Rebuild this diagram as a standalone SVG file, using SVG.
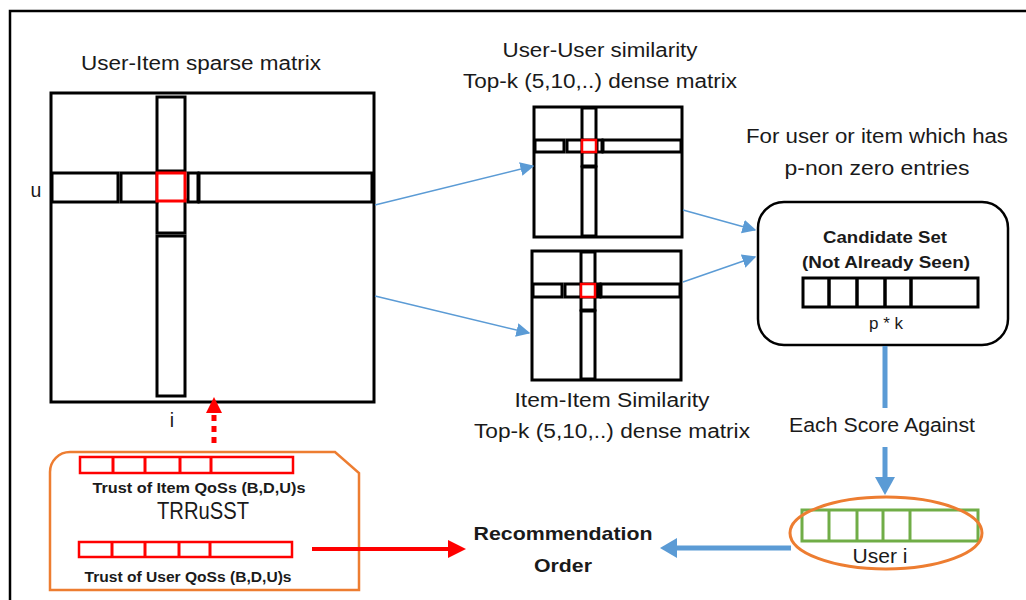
<svg xmlns="http://www.w3.org/2000/svg" width="1026" height="600" viewBox="0 0 1026 600">
<style>
.t{font-family:"Liberation Sans",Arial,sans-serif;fill:#1a1a1a;}
.b{font-weight:bold;}
.k{fill:#fff;stroke:#000;stroke-width:3;}
.r{fill:#fff;stroke:#ff0000;stroke-width:2.5;}
.rl{stroke:#ff0000;stroke-width:3;}
.kl{stroke:#000;stroke-width:3.5;}
.gl{stroke:#70ad47;stroke-width:3;}
.blue{stroke:#5b9bd5;fill:none;}
</style>
<defs>
<marker id="ab" viewBox="0 0 10 10" refX="9" refY="5" markerWidth="14" markerHeight="14" markerUnits="userSpaceOnUse" orient="auto">
<path d="M0,0 L10,5 L0,10 Z" fill="#5b9bd5"/>
</marker>
</defs>
<rect width="1026" height="600" fill="#fff"/>
<rect x="10" y="11" width="1030" height="600" fill="none" stroke="#000" stroke-width="2.5"/>

<g id="sparse-matrix">
<text class="t" x="201" y="70" font-size="19.5" text-anchor="middle" textLength="240" lengthAdjust="spacingAndGlyphs">User-Item sparse matrix</text>
<rect class="k" x="51" y="93" width="323" height="309"/>
<rect class="k" x="157" y="97" width="28" height="74"/>
<rect class="k" x="157" y="200" width="28" height="33"/>
<rect class="k" x="157" y="236" width="28" height="160"/>
<rect class="k" x="52" y="173" width="66" height="29"/>
<rect class="k" x="121" y="173" width="36" height="29"/>
<rect class="k" x="188" y="173" width="10" height="29"/>
<rect class="k" x="199" y="173" width="173" height="29"/>
<rect x="157" y="173" width="28" height="28" fill="#fff" stroke="#ff0000" stroke-width="3"/>
<text class="t" x="36" y="197" font-size="19.5" text-anchor="middle">u</text>
<text class="t" x="172" y="427" font-size="19.5" text-anchor="middle">i</text>
</g>

<g id="user-user-matrix">
<text class="t" x="600" y="57" font-size="19.5" text-anchor="middle" textLength="195" lengthAdjust="spacingAndGlyphs">User-User similarity</text>
<text class="t" x="600" y="88" font-size="19.5" text-anchor="middle" textLength="274" lengthAdjust="spacingAndGlyphs">Top-k (5,10,..) dense matrix</text>
<rect class="k" x="534" y="107" width="148" height="130"/>
<rect class="k" x="582" y="108" width="14" height="32"/>
<rect class="k" x="582" y="152" width="14" height="14"/>
<rect class="k" x="582" y="167" width="14" height="69"/>
<rect class="k" x="535" y="140" width="29" height="12"/>
<rect class="k" x="567" y="140" width="15" height="12"/>
<rect class="k" x="597" y="140" width="5" height="12"/>
<rect class="k" x="603" y="140" width="78" height="12"/>
<rect x="582" y="140" width="14" height="12" fill="#fff" stroke="#ff0000" stroke-width="2.5"/>
</g>

<g id="item-item-matrix">
<rect class="k" x="532" y="251" width="149" height="129"/>
<rect class="k" x="581" y="252" width="14" height="32"/>
<rect class="k" x="581" y="297" width="14" height="13"/>
<rect class="k" x="581" y="311" width="14" height="68"/>
<rect class="k" x="533" y="284" width="29" height="13"/>
<rect class="k" x="565" y="284" width="16" height="13"/>
<rect class="k" x="597" y="284" width="3" height="13"/>
<rect class="k" x="601" y="284" width="79" height="13"/>
<rect x="581" y="284" width="14" height="13" fill="#fff" stroke="#ff0000" stroke-width="2.5"/>
<text class="t" x="612" y="407" font-size="19.5" text-anchor="middle" textLength="195" lengthAdjust="spacingAndGlyphs">Item-Item Similarity</text>
<text class="t" x="612" y="438" font-size="19.5" text-anchor="middle" textLength="276" lengthAdjust="spacingAndGlyphs">Top-k (5,10,..) dense matrix</text>
</g>

<g id="candidate-set">
<text class="t" x="877" y="143" font-size="19.5" text-anchor="middle" textLength="262" lengthAdjust="spacingAndGlyphs">For user or item which has</text>
<text class="t" x="877" y="175" font-size="19.5" text-anchor="middle" textLength="185" lengthAdjust="spacingAndGlyphs">p-non zero entries</text>
<rect x="758" y="202" width="250" height="143" rx="26" fill="#fff" stroke="#000" stroke-width="2.5"/>
<text class="t b" x="885" y="243" font-size="17" text-anchor="middle" textLength="124" lengthAdjust="spacingAndGlyphs">Candidate Set</text>
<text class="t b" x="886" y="268" font-size="17" text-anchor="middle" textLength="168" lengthAdjust="spacingAndGlyphs">(Not Already Seen)</text>
<rect class="k" x="803" y="278" width="175" height="29"/>
<line class="kl" x1="829" y1="278" x2="829" y2="307"/>
<line class="kl" x1="857" y1="278" x2="857" y2="307"/>
<line class="kl" x1="885" y1="278" x2="885" y2="307"/>
<line class="kl" x1="911" y1="278" x2="911" y2="307"/>
<text class="t" x="886" y="329" font-size="17" text-anchor="middle">p * k</text>
</g>

<g id="user-i">
<text class="t" x="882" y="432" font-size="19.5" text-anchor="middle" textLength="186" lengthAdjust="spacingAndGlyphs">Each Score Against</text>
<rect x="802" y="510" width="176" height="31" fill="#fff" stroke="#70ad47" stroke-width="3"/>
<line class="gl" x1="829" y1="510" x2="829" y2="541"/>
<line class="gl" x1="857" y1="510" x2="857" y2="541"/>
<line class="gl" x1="883" y1="510" x2="883" y2="541"/>
<line class="gl" x1="910" y1="510" x2="910" y2="541"/>
<ellipse cx="886" cy="533" rx="96" ry="36" fill="none" stroke="#ed7d31" stroke-width="3"/>
<text class="t" x="880" y="563" font-size="19.5" text-anchor="middle" textLength="55" lengthAdjust="spacingAndGlyphs">User i</text>
</g>

<g id="trrusst">
<path d="M50,472 A20,20 0 0 1 70,452 L335,452 L359,473 L359,590 L50,590 Z" fill="#fff" stroke="#ed7d31" stroke-width="2.5"/>
<rect class="r" x="80" y="457" width="213" height="16"/>
<line class="rl" x1="113" y1="457" x2="113" y2="473"/>
<line class="rl" x1="145" y1="457" x2="145" y2="473"/>
<line class="rl" x1="180" y1="457" x2="180" y2="473"/>
<line class="rl" x1="211" y1="457" x2="211" y2="473"/>
<text class="t b" x="199" y="493" font-size="15" text-anchor="middle" textLength="213" lengthAdjust="spacingAndGlyphs">Trust of Item QoSs (B,D,U)s</text>
<text class="t" x="203" y="519" font-size="23" text-anchor="middle" textLength="92" lengthAdjust="spacingAndGlyphs">TRRuSST</text>
<rect class="r" x="79" y="542" width="213" height="15"/>
<line class="rl" x1="112" y1="542" x2="112" y2="557"/>
<line class="rl" x1="145" y1="542" x2="145" y2="557"/>
<line class="rl" x1="179" y1="542" x2="179" y2="557"/>
<line class="rl" x1="210" y1="542" x2="210" y2="557"/>
<text class="t b" x="188" y="582" font-size="15" text-anchor="middle" textLength="207" lengthAdjust="spacingAndGlyphs">Trust of User QoSs (B,D,U)s</text>
</g>

<g id="recommendation-order">
<text class="t b" x="563" y="540" font-size="19" text-anchor="middle" textLength="179" lengthAdjust="spacingAndGlyphs">Recommendation</text>
<text class="t b" x="563" y="572" font-size="19" text-anchor="middle" textLength="58" lengthAdjust="spacingAndGlyphs">Order</text>
</g>

<g id="connectors">
<line class="blue" x1="375" y1="205" x2="533" y2="166" stroke-width="1.5" marker-end="url(#ab)"/>
<line class="blue" x1="375" y1="296" x2="529" y2="333" stroke-width="1.5" marker-end="url(#ab)"/>
<line class="blue" x1="683" y1="210" x2="755" y2="230" stroke-width="1.5" marker-end="url(#ab)"/>
<line class="blue" x1="683" y1="282" x2="755" y2="257" stroke-width="1.5" marker-end="url(#ab)"/>
<line class="blue" x1="885" y1="346" x2="885" y2="408" stroke-width="5"/>
<line class="blue" x1="885" y1="447" x2="885" y2="478" stroke-width="5"/>
<polygon points="875,477 895,477 885,495" fill="#5b9bd5"/>
<line class="blue" x1="791" y1="548" x2="676" y2="548" stroke-width="5"/>
<polygon points="677,538 677,558 660,548" fill="#5b9bd5"/>
<line x1="312" y1="549" x2="449" y2="549" stroke="#ff0000" stroke-width="4"/>
<polygon points="448,540 448,558 466,549" fill="#ff0000"/>
<line x1="214" y1="443" x2="214" y2="412" stroke="#ff0000" stroke-width="5" stroke-dasharray="6,5"/>
<polygon points="206,413 222,413 214,397" fill="#ff0000"/>
</g>
</svg>
